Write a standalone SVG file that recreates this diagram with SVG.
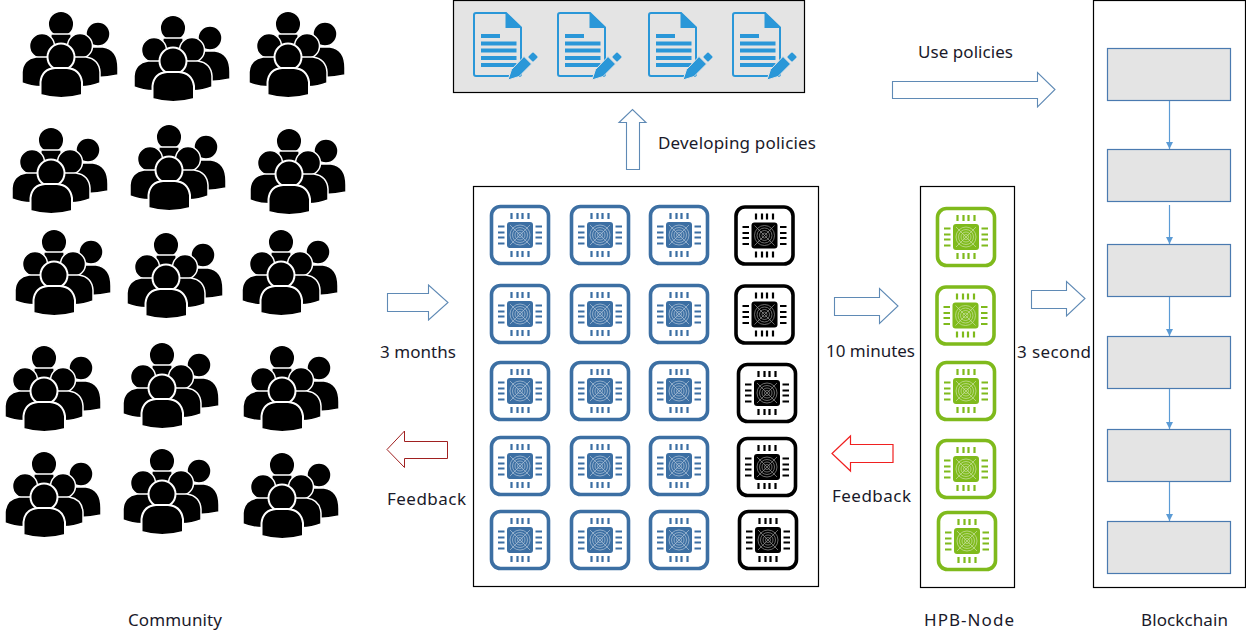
<svg xmlns="http://www.w3.org/2000/svg" xmlns:xlink="http://www.w3.org/1999/xlink" width="1246" height="643" viewBox="0 0 1246 643">
<style>
text{font-family:"Noto Sans","Open Sans","Liberation Sans",sans-serif;font-size:17px;fill:#1a1a2a}
.panel{fill:none;stroke:#000;stroke-width:1.2}
.grey{fill:#e4e4e4}
.block{fill:#e4e4e4;stroke:#4a7ab0;stroke-width:1.2}
.arrow{fill:#fff;stroke:#5f8ab5;stroke-width:1.1}
.red{fill:#fff;stroke:#a02020;stroke-width:1}
.red2{fill:#fff;stroke:#f02020;stroke-width:1.2}
.link{stroke:#5b9bd5;stroke-width:1.2;fill:none}
.blue{color:#3c6fa3}.black{color:#000}.green{color:#7fba1c}
</style>
<defs>
<marker id="tip" markerWidth="8" markerHeight="7" refX="7" refY="3.5" orient="auto" markerUnits="userSpaceOnUse"><path d="M0 0L7 3.5L0 7Z" fill="#5b9bd5"/></marker>
<symbol id="people" overflow="visible">
<g fill="#000" stroke="#fff" stroke-width="1.500">
<circle cx="37" cy="10" r="12"/>
<path d="M18 23H42Q57 25 57 44V51Q44 54 30 54Z"/>
<circle cx="0" cy="0" r="12.800"/>
<path d="M-10 10H10L12 30H-12Z"/>
<circle cx="-19" cy="22" r="12.500"/>
<circle cx="19" cy="22" r="12.500"/>
<path d="M-25 33H-8L6 40V58Q-20 67 -39 59V48Q-38 35 -25 33Z"/>
<path d="M25 33H8L-6 40V58Q20 67 39 59V48Q38 35 25 33Z"/>
<circle cx="0" cy="33" r="13.500" stroke-width="2"/>
<path d="M-20.500 71V58Q-19 45 -6 44H6Q19 45 21 58V71Q0 77 -20.500 71Z" stroke-width="2"/>
</g>
</symbol>
<symbol id="chip" overflow="visible">
<rect x="-28.500" y="-28.500" width="57" height="57" rx="9" fill="#fff" stroke="currentColor" stroke-width="3.600"/>
<rect x="-13" y="-13" width="26" height="26" rx="3" fill="currentColor"/>
<g fill="none" stroke="#fff" stroke-width=".7" opacity=".6">
<circle r="10"/><circle r="7.500"/><circle r="5"/><circle r="2.500"/>
<path d="M-10 -10L10 10M-10 10L10 -10"/>
</g>
<g stroke="currentColor" stroke-width="2.200" fill="none">
<path d="M-8.500 -22V-16M-2.500 -22V-16M2.500 -22V-16M8.500 -22V-16M-8.500 16V22M-2.500 16V22M2.500 16V22M8.500 16V22M-22 -8.500H-15.500M-22 -2.500H-15.500M-22 2.500H-15.500M-22 8.500H-15.500M15.500 -8.500H22M15.500 -2.500H22M15.500 2.500H22M15.500 8.500H22"/>
</g>
</symbol>
<symbol id="doc" overflow="visible">
<path d="M3 13H33L48 27.500V74Q48 76 46 76H3Q1 76 1 74V15Q1 13 3 13Z" fill="none" stroke="#2a97d8" stroke-width="2"/>
<path d="M32.500 12L49 28H32.500Z" fill="#2a97d8"/>
<g fill="#2a97d8">
<rect x="8" y="34" width="19" height="4"/>
<rect x="8" y="41.500" width="35.500" height="4"/>
<rect x="8" y="48.500" width="35.500" height="4"/>
<rect x="8" y="56" width="35.500" height="4"/>
<rect x="8" y="63" width="35.500" height="4"/>
<path d="M35 80L38.500 69.500L51 56.500L58.500 64L46 76.500Z" stroke="#e4e4e4" stroke-width="1"/>
<rect x="-3.500" y="-3.500" width="7" height="7" rx="1" transform="translate(60 57) rotate(45)"/>
</g>
</symbol>
</defs>

<g id="community">
<use href="#people" x="61" y="24"/><use href="#people" x="173" y="28"/><use href="#people" x="288" y="24"/>
<use href="#people" x="51" y="140"/><use href="#people" x="169" y="137"/><use href="#people" x="289" y="141"/>
<use href="#people" x="54" y="242"/><use href="#people" x="166" y="245"/><use href="#people" x="281" y="242"/>
<use href="#people" x="44" y="358"/><use href="#people" x="162" y="355"/><use href="#people" x="282" y="358"/>
<use href="#people" x="44" y="464"/><use href="#people" x="162" y="461"/><use href="#people" x="282" y="465"/>
<text x="128" y="626" textLength="94">Community</text>
</g>

<g id="policies">
<rect class="grey" x="453.500" y=".5" width="351" height="92"/>
<rect class="panel" x="453.500" y=".5" width="351" height="92"/>
<use href="#doc" x="473" y="0"/><use href="#doc" x="557" y="0"/><use href="#doc" x="648" y="0"/><use href="#doc" x="732" y="0"/>
</g>

<g id="miners">
<rect class="panel" x="473.500" y="186.500" width="345" height="400"/>
<g class="blue">
<use href="#chip" x="520" y="235"/><use href="#chip" x="600" y="235"/><use href="#chip" x="679" y="235"/>
<use href="#chip" x="520" y="314"/><use href="#chip" x="600" y="314"/><use href="#chip" x="679" y="314"/>
<use href="#chip" x="520" y="391"/><use href="#chip" x="600" y="391"/><use href="#chip" x="679" y="391"/>
<use href="#chip" x="520" y="466"/><use href="#chip" x="600" y="466"/><use href="#chip" x="679" y="466"/>
<use href="#chip" x="520" y="540"/><use href="#chip" x="600" y="540"/><use href="#chip" x="679" y="540"/>
</g>
<g class="black">
<use href="#chip" x="764.500" y="235.500"/><use href="#chip" x="764.500" y="314.500"/><use href="#chip" x="767" y="393"/><use href="#chip" x="767" y="467"/><use href="#chip" x="768" y="540"/>
</g>
</g>

<g id="hpb-node">
<rect class="panel" x="920.500" y="186.500" width="94" height="401"/>
<g class="green">
<use href="#chip" x="966" y="237"/><use href="#chip" x="965.500" y="315.500"/><use href="#chip" x="966" y="391"/><use href="#chip" x="966" y="469"/><use href="#chip" x="967" y="541"/>
</g>
<text x="924" y="626" textLength="90">HPB-Node</text>
</g>

<g id="blockchain">
<rect class="panel" x="1093.500" y=".5" width="152" height="587"/>
<rect class="block" x="1107.500" y="48.500" width="123" height="52"/>
<rect class="block" x="1107.500" y="149.500" width="123" height="52"/>
<rect class="block" x="1107.500" y="244.500" width="123" height="52"/>
<rect class="block" x="1107.500" y="336.500" width="123" height="52"/>
<rect class="block" x="1107.500" y="429.500" width="123" height="52"/>
<rect class="block" x="1107.500" y="521.500" width="123" height="52"/>
<text x="1141" y="626" textLength="87">Blockchain</text>
</g>

<g id="connectors">
<path class="link" marker-end="url(#tip)" d="M1169.500 101V149"/>
<path class="link" marker-end="url(#tip)" d="M1169.500 205V244"/>
<path class="link" marker-end="url(#tip)" d="M1169.500 297V336"/>
<path class="link" marker-end="url(#tip)" d="M1169.500 389V429"/>
<path class="link" marker-end="url(#tip)" d="M1169.500 482V521"/>
<path class="arrow" d="M626.500 169.500V122.500H619L632.500 109.500L646 122.500H639.500V169.500Z"/>
<path class="arrow" d="M892.500 81.500H1037.500V72.500L1055 89.500L1037.500 107V98.500H892.500Z"/>
<path class="arrow" d="M387.500 293.500H428.500V285L448 302.500L428.500 320V311.500H387.500Z"/>
<path class="arrow" d="M834.500 297.500H879.500V288.500L898 306L879.500 323.500V315.500H834.500Z"/>
<path class="arrow" d="M1031.500 290.500H1066.500V281.500L1085 298.500L1066.500 316V308.500H1031.500Z"/>
<path class="red" d="M447.500 441.500H404.500V431L387 449.500L404.500 467.500V458.500H447.500Z"/>
<path class="red2" d="M893 444.500H850.500V436L832 453.500L850.500 471V462.500H893Z"/>
</g>

<g id="labels">
<text x="918" y="58" textLength="95">Use policies</text>
<text x="658" y="149" textLength="158">Developing policies</text>
<text x="380" y="358" textLength="76">3 months</text>
<text x="826" y="357" textLength="89">10 minutes</text>
<text x="1017" y="358" textLength="74">3 second</text>
<text x="387" y="505" textLength="79">Feedback</text>
<text x="832" y="502" textLength="79">Feedback</text>
</g>
</svg>
